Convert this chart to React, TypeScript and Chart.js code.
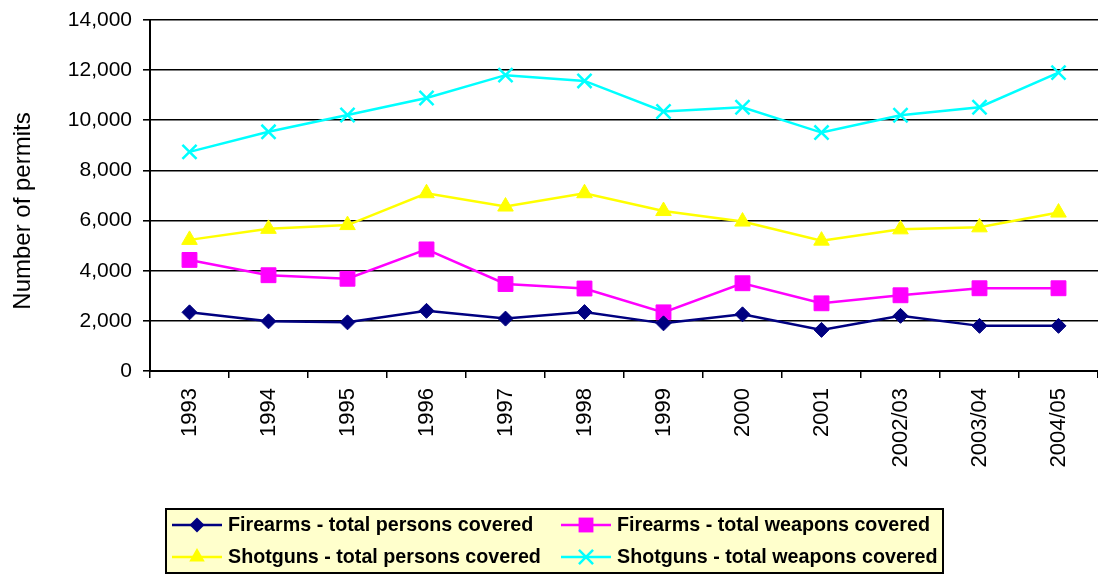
import React, { useEffect, useRef } from "react";
import { Chart, registerables } from "chart.js";

Chart.register(...registerables);

const categories = ["1993", "1994", "1995", "1996", "1997", "1998", "1999", "2000", "2001", "2002/03", "2003/04", "2004/05"];
const firearmsPersons = [2340, 1980, 1940, 2400, 2090, 2350, 1900, 2260, 1640, 2200, 1800, 1800];
const firearmsWeapons = [4430, 3820, 3680, 4850, 3470, 3290, 2340, 3500, 2700, 3020, 3300, 3300];
const shotgunsPersons = [5230, 5670, 5820, 7090, 6560, 7090, 6380, 5960, 5200, 5650, 5730, 6320];
const shotgunsWeapons = [8740, 9540, 10210, 10890, 11800, 11570, 10350, 10520, 9510, 10200, 10520, 11900];
const seriesNames = [
  "Firearms - total persons covered",
  "Firearms - total weapons covered",
  "Shotguns - total persons covered",
  "Shotguns - total weapons covered",
];
const yTitle = "Number of permits";

const FONT = "Arial, 'Liberation Sans', sans-serif";

function drawMarker(ctx: CanvasRenderingContext2D, style: string, r: number, x: number, y: number, color: string, bw: number) {
  ctx.save();
  ctx.fillStyle = color;
  ctx.strokeStyle = color;
  ctx.lineWidth = bw;
  ctx.beginPath();
  if (style === "rectRot") {
    ctx.moveTo(x - r, y);
    ctx.lineTo(x, y - r);
    ctx.lineTo(x + r, y);
    ctx.lineTo(x, y + r);
    ctx.closePath();
    ctx.fill();
  } else if (style === "rect") {
    const s = Math.SQRT1_2 * r;
    ctx.rect(x - s, y - s, 2 * s, 2 * s);
    ctx.fill();
  } else if (style === "triangle") {
    const a = (2 * Math.PI) / 3;
    for (let k = 0; k < 3; k++) {
      const px = x + Math.sin(k * a) * r;
      const py = y - Math.cos(k * a) * r;
      if (k === 0) ctx.moveTo(px, py);
      else ctx.lineTo(px, py);
    }
    ctx.closePath();
    ctx.fill();
  } else if (style === "crossRot") {
    const o = Math.SQRT1_2 * r;
    ctx.moveTo(x - o, y - o);
    ctx.lineTo(x + o, y + o);
    ctx.moveTo(x - o, y + o);
    ctx.lineTo(x + o, y - o);
    ctx.stroke();
  }
  ctx.restore();
}

const legendPlugin = {
  id: "customLegend",
  afterDraw(chart: any) {
    const ctx = chart.ctx as CanvasRenderingContext2D;
    // y axis title
    ctx.save();
    ctx.translate(23, 211);
    ctx.rotate(-Math.PI / 2);
    ctx.fillStyle = "#000";
    ctx.font = `24px ${FONT}`;
    ctx.textAlign = "center";
    ctx.textBaseline = "middle";
    ctx.fillText(yTitle, 0, 0);
    ctx.restore();

    const boxL = 166, boxT = 509, boxR = 943, boxB = 573;
    ctx.save();
    ctx.fillStyle = "#FFFFCC";
    ctx.fillRect(boxL, boxT, boxR - boxL, boxB - boxT);
    ctx.strokeStyle = "#000";
    ctx.lineWidth = 2;
    ctx.strokeRect(boxL, boxT, boxR - boxL, boxB - boxT);
    const cols = [172, 561];
    const rows = [525, 557];
    chart.data.datasets.forEach((ds: any, i: number) => {
      const x0 = cols[i % 2];
      const y = rows[Math.floor(i / 2)];
      ctx.strokeStyle = ds.borderColor;
      ctx.lineWidth = 2.5;
      ctx.beginPath();
      ctx.moveTo(x0, y);
      ctx.lineTo(x0 + 50, y);
      ctx.stroke();
      drawMarker(ctx, ds.pointStyle, ds.pointRadius, x0 + 25, y, ds.pointBackgroundColor, ds.pointBorderWidth);
      ctx.fillStyle = "#000";
      ctx.font = `bold 19.7px ${FONT}`;
      ctx.textBaseline = "middle";
      ctx.textAlign = "left";
      ctx.fillText(ds.label, x0 + 56, y + 1);
    });
    ctx.restore();
  },
};

export default function App() {
  const ref = useRef<HTMLCanvasElement | null>(null);
  useEffect(() => {
    document.body.style.margin = "0";
    document.documentElement.style.overflow = "hidden";
    if (!ref.current) return;
    const mk = (label: string, data: number[], color: string, style: string, radius: number, bw: number) => ({
      label,
      data,
      borderColor: color,
      backgroundColor: color,
      pointBackgroundColor: color,
      pointBorderColor: color,
      pointStyle: style,
      pointRadius: radius,
      pointBorderWidth: bw,
      borderWidth: 2.5,
      tension: 0,
      fill: false,
    });
    const chart = new Chart(ref.current, {
      type: "line",
      data: {
        labels: categories,
        datasets: [
          mk(seriesNames[0], firearmsPersons, "#000080", "rectRot", 7.5, 1),
          mk(seriesNames[1], firearmsWeapons, "#FF00FF", "rect", 10.5, 1),
          mk(seriesNames[2], shotgunsPersons, "#FFFF00", "triangle", 9, 1),
          mk(seriesNames[3], shotgunsWeapons, "#00FFFF", "crossRot", 10, 2.5),
        ] as any,
      },
      options: {
        animation: false,
        responsive: false,
        events: [],
        layout: { autoPadding: false, padding: { top: 20, right: -3, left: 0, bottom: 94 } },
        plugins: { legend: { display: false }, tooltip: { enabled: false } },
        scales: {
          x: {
            type: "category",
            offset: true,
            afterFit: (s: any) => { s.height = 110; s.paddingLeft = 0; s.paddingRight = 0; },
            grid: { display: true, drawOnChartArea: false, drawTicks: true, tickLength: 7, offset: true, color: "#000", lineWidth: 1.5 },
            border: { display: true, color: "#000", width: 2 },
            ticks: { color: "#000", font: { family: FONT, size: 22 }, minRotation: 90, maxRotation: 90, padding: 10, autoSkip: false },
          },
          y: {
            min: 0,
            max: 14000,
            afterFit: (s: any) => { s.width = 150; s.paddingTop = 0; s.paddingBottom = 0; },
            grid: { color: "#000", lineWidth: 1.6, tickLength: 7, drawTicks: true },
            border: { display: true, color: "#000", width: 2 },
            ticks: {
              stepSize: 2000,
              color: "#000",
              padding: 11,
              font: { family: FONT, size: 21 },
              callback: (v: any) => Number(v).toLocaleString("en-US"),
            },
          },
        },
      },
      plugins: [legendPlugin],
    });
    return () => chart.destroy();
  }, []);
  return (
    <div style={{ width: 1098, height: 575, position: "relative" }}>
      <canvas ref={ref} width={1098} height={575} style={{ display: "block", width: 1098, height: 575 }} />
    </div>
  );
}
